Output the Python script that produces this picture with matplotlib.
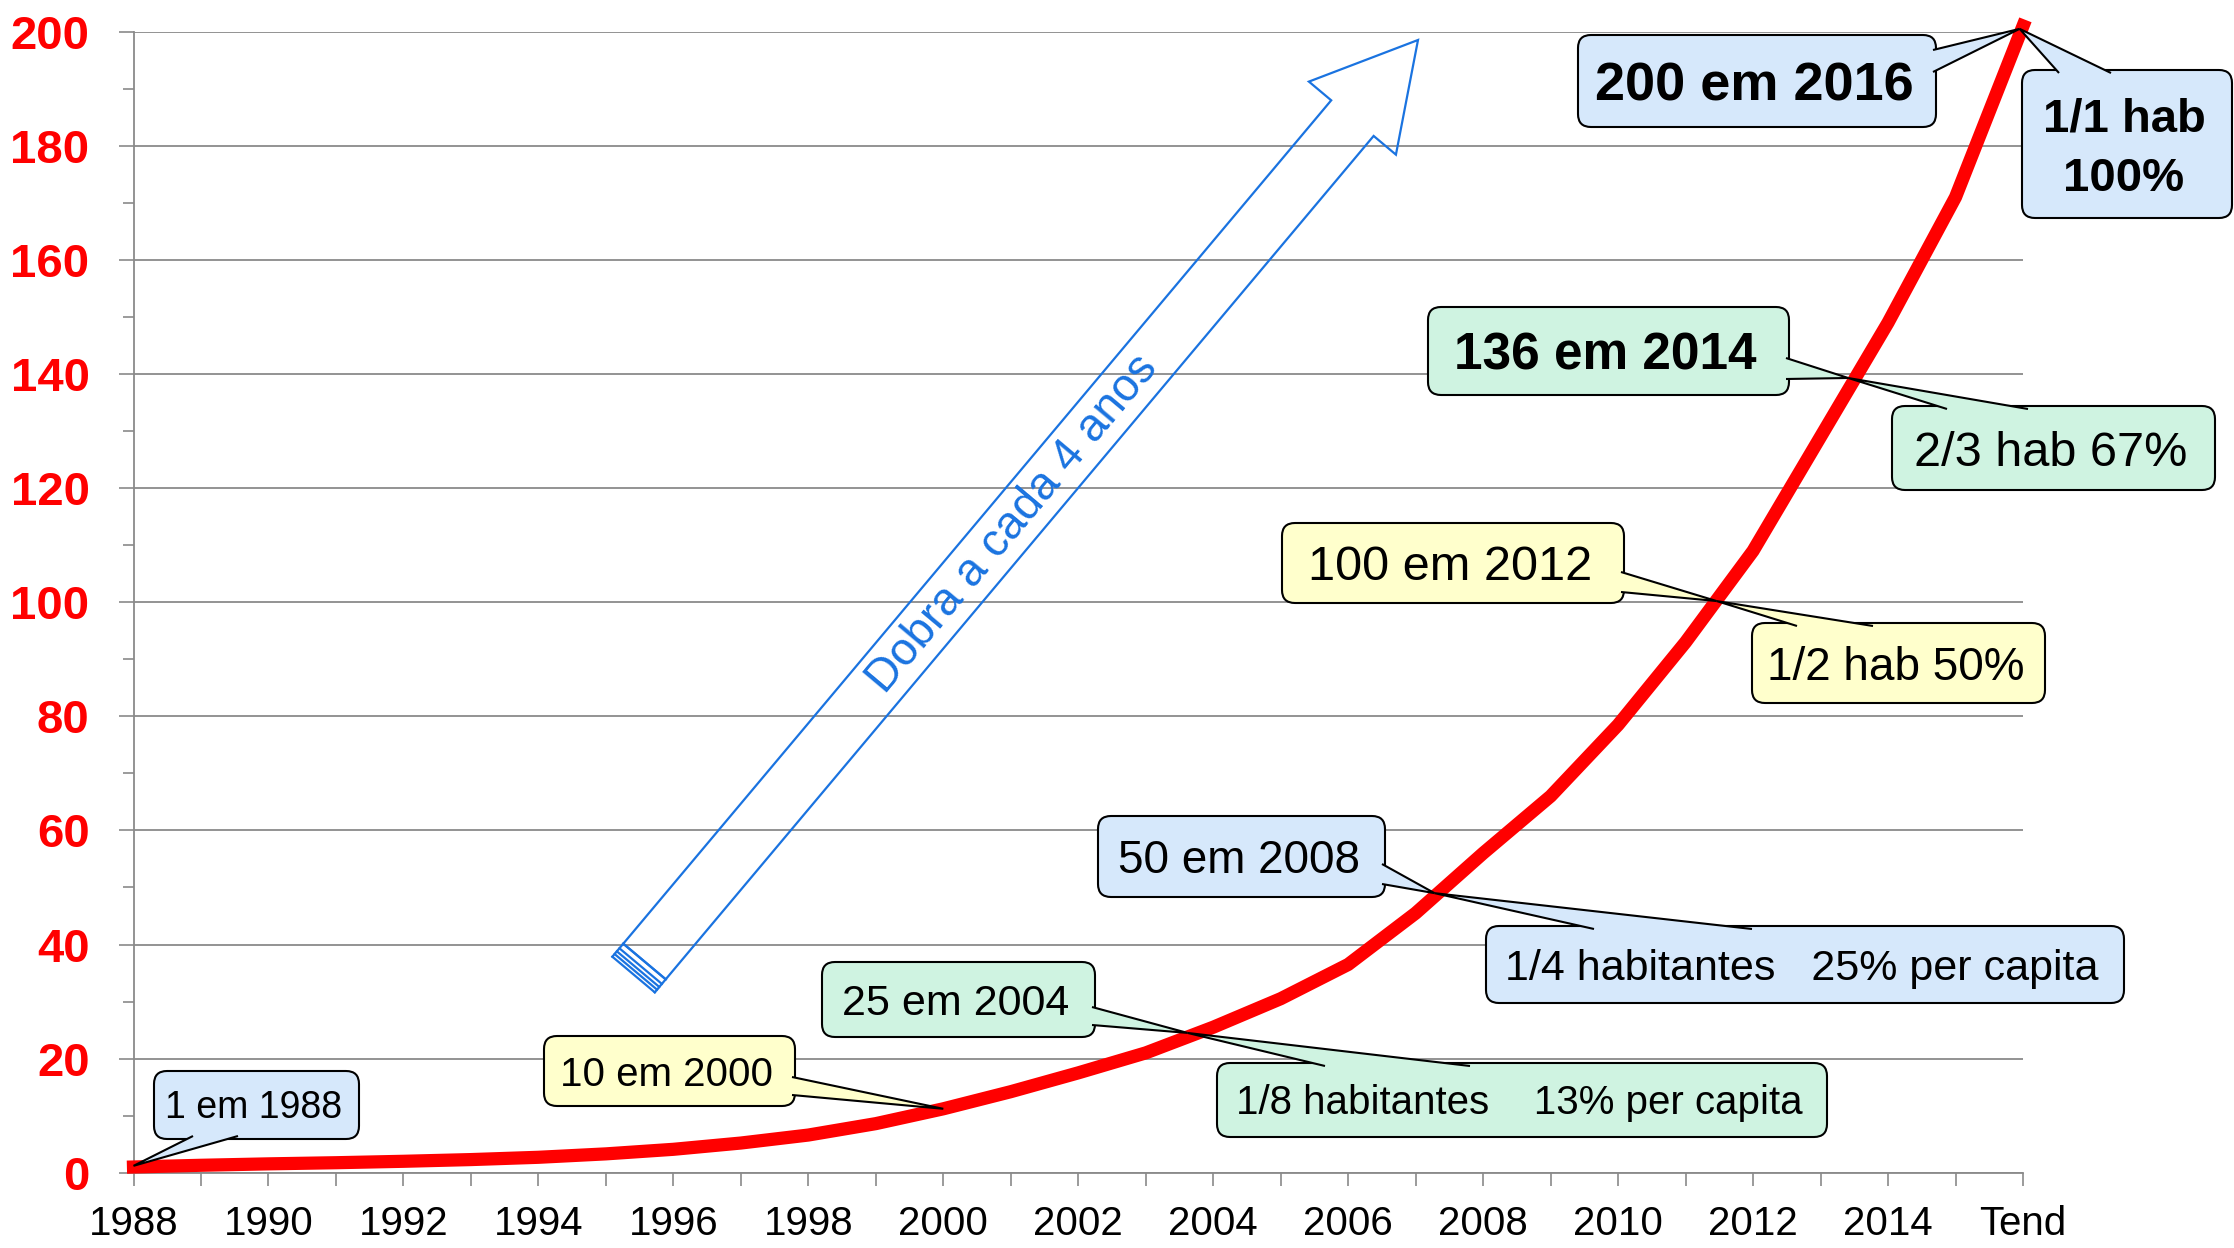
import matplotlib
matplotlib.use('Agg')
import matplotlib.pyplot as plt
from matplotlib.patches import FancyArrow, FancyBboxPatch, Polygon
from matplotlib.lines import Line2D
from matplotlib.ticker import MultipleLocator
from matplotlib.transforms import Affine2D
import numpy as np

plt.rcParams['font.family'] = ['Liberation Sans', 'DejaVu Sans']

# Dados da serie
anos = ['1988', '1989', '1990', '1991', '1992', '1993', '1994', '1995', '1996', '1997',
        '1998', '1999', '2000', '2001', '2002', '2003', '2004', '2005', '2006', '2007',
        '2008', '2009', '2010', '2011', '2012', '2013', '2014', '2015', 'Tend']
valores = [1.0, 1.3, 1.55, 1.75, 2.0, 2.3, 2.7, 3.3, 4.1, 5.2,
           6.6, 8.6, 11.2, 14.2, 17.5, 21.0, 25.5, 30.5, 36.5, 45.5,
           56.0, 66.0, 78.5, 93.0, 109.0, 129.0, 149.0, 171.0, 201.0]

# Textos das chamadas e pontos apontados (x em indice de categoria, y no valor)
textos = ['1 em 1988', '10 em 2000', '25 em 2004', '1/8 habitantes    13% per capita',
          '50 em 2008', '1/4 habitantes   25% per capita', '100 em 2012', '1/2 hab 50%',
          '136 em 2014', '2/3 hab 67%', '200 em 2016', '1/1 hab\n100%']
alvo_x = [0.0, 12.0, 15.62, 15.62, 19.28, 19.28, 23.46, 23.46, 25.41, 25.41, 27.95, 27.95]
alvo_y = [1.2, 11.2, 24.5, 24.5, 49.0, 49.0, 100.2, 100.2, 139.3, 139.3, 200.5, 200.5]

AZUL_CX = '#d6e8fb'
AMARELO = '#ffffcc'
VERDE = '#cff3e1'
AZUL = '#1a73e0'
CINZA = '#8a8a8a'

W, H = 2234, 1248

# caixa (x0, y0, x1, y1 em px da imagem), cor, fonte, peso, lado e trecho da base da ponta
caixas = [
    ((154, 1071, 359, 1139), AZUL_CX, 27, 'normal', ('b', 193, 238)),
    ((544, 1036, 795, 1106), AMARELO, 29, 'normal', ('r', 1077, 1095)),
    ((822, 962, 1095, 1037), VERDE, 31, 'normal', ('r', 1007, 1025)),
    ((1217, 1063, 1827, 1137), VERDE, 29, 'normal', ('t', 1325, 1470)),
    ((1098, 816, 1385, 897), AZUL_CX, 33, 'normal', ('r', 864, 884)),
    ((1486, 926, 2124, 1003), AZUL_CX, 31, 'normal', ('t', 1594, 1752)),
    ((1282, 523, 1624, 603), AMARELO, 35, 'normal', ('r', 572, 592)),
    ((1752, 623, 2045, 703), AMARELO, 33, 'normal', ('t', 1797, 1873)),
    ((1428, 307, 1789, 395), VERDE, 37, 'bold', ('r', 358, 379)),
    ((1892, 406, 2215, 490), VERDE, 35, 'normal', ('t', 1947, 2028)),
    ((1578, 35, 1936, 127), AZUL_CX, 39, 'bold', ('r', 50, 72)),
    ((2022, 70, 2232, 218), AZUL_CX, 34, 'bold', ('t', 2059, 2111)),
]

fig = plt.figure(figsize=(22.34, 12.48), dpi=100)
ax = fig.add_axes([133.5 / W, 1 - 1172.7 / H, (2023 - 133.5) / W, (1172.7 - 31.7) / H])

# coordenadas em pixels da imagem (origem no canto superior esquerdo)
ref = Affine2D().scale(1 / W, -1 / H).translate(0, 1) + fig.transFigure

x = np.arange(len(anos))
ax.plot(x, valores, color='red', lw=9.5, zorder=3, clip_on=False)

ax.set_xlim(0, 28)
ax.set_ylim(0, 200)

ax.set_xticks(x)
ax.set_xticklabels([a if i % 2 == 0 else '' for i, a in enumerate(anos)])
ax.set_yticks(np.arange(0, 201, 20))
ax.yaxis.set_minor_locator(MultipleLocator(10))

ax.tick_params(axis='x', length=9.4, width=1.2, color=CINZA, pad=14, labelsize=29)
ax.tick_params(axis='y', which='major', length=10.6, width=1.2, color=CINZA,
               pad=21, labelsize=34, labelcolor='red')
ax.tick_params(axis='y', which='minor', length=8, width=1.2, color=CINZA)
for lab in ax.get_yticklabels():
    lab.set_fontweight('bold')

ax.yaxis.grid(True, color=CINZA, lw=1.3)
ax.set_axisbelow(True)
for s in ['top', 'right']:
    ax.spines[s].set_visible(False)
for s in ['left', 'bottom']:
    ax.spines[s].set_color(CINZA)
    ax.spines[s].set_linewidth(1.3)

# Chamadas: caixa arredondada + ponta apontando para a curva
for txt, xa, ya, (caixa, cor, tam, peso, base) in zip(textos, alvo_x, alvo_y, caixas):
    x0, y0, x1, y1 = caixa
    fig.add_artist(FancyBboxPatch((x0, y0), x1 - x0, y1 - y0,
                                  boxstyle='round,pad=0,rounding_size=13',
                                  fc=cor, ec='black', lw=1.5, transform=ref, zorder=6))
    ponta = ref.inverted().transform(ax.transData.transform((xa, ya)))
    lado, a, b = base
    if lado == 'b':
        p1, p2 = (a, y1 - 3), (b, y1 - 3)
    elif lado == 't':
        p1, p2 = (a, y0 + 3), (b, y0 + 3)
    else:
        p1, p2 = (x1 - 3, a), (x1 - 3, b)
    fig.add_artist(Polygon([p1, ponta, p2], closed=False, fc=cor, ec='black',
                           lw=1.5, transform=ref, zorder=7))
    tam_px = tam * 100 / 72
    cx = (x0 + x1) / 2 - 3
    linhas = txt.split('\n')
    passo = 1.27 * tam_px
    yc = (y0 + y1) / 2 - passo * (len(linhas) - 1) / 2
    for k, linha in enumerate(linhas):
        fig.text(cx, yc + k * passo + 0.36 * tam_px, linha, transform=ref,
                 ha='center', va='baseline', fontsize=tam, fontweight=peso, zorder=8)

# Seta "Dobra a cada 4 anos" (em polegadas)
x0, y0 = 6.445, 12.48 - 9.615
dx, dy = 7.735, 9.215
seta = FancyArrow(x0, y0, dx, dy, width=0.554, head_width=1.136, head_length=1.02,
                  length_includes_head=True, fill=False, ec=AZUL, lw=1.6,
                  transform=fig.dpi_scale_trans)
fig.add_artist(seta)

L = np.hypot(dx, dy)
ux, uy = dx / L, dy / L
nx, ny = -uy, ux
hw = 0.554 / 2
for d in [0.0, 0.06, 0.10, 0.135, 0.17]:
    bx, by = x0 - ux * d, y0 - uy * d
    fig.add_artist(Line2D([bx - nx * hw, bx + nx * hw], [by - ny * hw, by + ny * hw],
                          color=AZUL, lw=1.6, transform=fig.dpi_scale_trans))
for sgn in [-1, 1]:
    fig.add_artist(Line2D([x0 + sgn * nx * hw, x0 - ux * 0.17 + sgn * nx * hw],
                          [y0 + sgn * ny * hw, y0 - uy * 0.17 + sgn * ny * hw],
                          color=AZUL, lw=1.6, transform=fig.dpi_scale_trans))

ang = np.degrees(np.arctan2(dy, dx))
fig.text(10.13 / 22.34, 7.24 / 12.48, 'Dobra a cada 4 anos', rotation=ang,
         rotation_mode='anchor', ha='center', va='center', color=AZUL, fontsize=33)

fig.savefig('out.png', dpi=100)
